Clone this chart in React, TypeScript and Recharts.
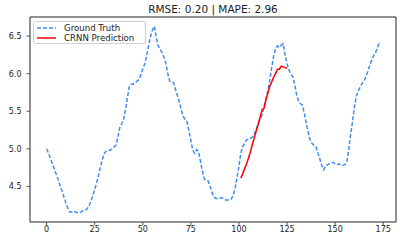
import React from "react";
import {
  LineChart,
  Line,
  XAxis,
  YAxis,
  ReferenceArea,
} from "recharts";

// ---------- data ----------

const GROUND_TRUTH = [
  5.0, 4.94, 4.87, 4.8, 4.73, 4.66, 4.59, 4.51, 4.44, 4.36,
  4.28, 4.21, 4.16, 4.16, 4.17, 4.16, 4.15, 4.15, 4.16, 4.18,
  4.18, 4.2, 4.24, 4.3, 4.38, 4.46, 4.55, 4.65, 4.76, 4.86,
  4.94, 4.97, 4.98, 4.98, 5.0, 5.02, 5.05, 5.15, 5.28, 5.33,
  5.39, 5.52, 5.68, 5.83, 5.86, 5.86, 5.88, 5.9, 5.92, 5.99,
  6.06, 6.13, 6.24, 6.37, 6.49, 6.58, 6.63, 6.48, 6.37, 6.32,
  6.28, 6.22, 6.13, 6.0, 5.9, 5.89, 5.88, 5.79, 5.71, 5.62,
  5.52, 5.43, 5.39, 5.36, 5.24, 5.11, 4.98, 4.94, 4.99, 4.96,
  4.83, 4.7, 4.6, 4.58, 4.57, 4.5, 4.42, 4.36, 4.34, 4.34,
  4.34, 4.35, 4.34, 4.32, 4.32, 4.32, 4.33, 4.38, 4.48, 4.62,
  4.77, 4.95, 5.03, 5.08, 5.12, 5.13, 5.14, 5.16, 5.2, 5.26,
  5.33, 5.4, 5.45, 5.55, 5.66, 5.77, 5.91, 6.08, 6.23, 6.33,
  6.37, 6.35, 6.38, 6.4, 6.25, 6.13, 6.05, 5.99, 5.96, 5.85,
  5.72, 5.63, 5.6, 5.58, 5.47, 5.34, 5.22, 5.12, 5.07, 5.05,
  5.03, 4.95, 4.87, 4.78, 4.72, 4.77, 4.79, 4.8, 4.81, 4.82,
  4.8, 4.79, 4.8, 4.78, 4.78, 4.79, 4.82, 4.98, 5.18, 5.35,
  5.55, 5.7, 5.77, 5.82, 5.87, 5.9, 5.96, 6.03, 6.11, 6.18,
  6.24, 6.28, 6.34, 6.43,
];

const PRED_START = 101;
const PREDICTION = [
  4.61, 4.67, 4.74, 4.8, 4.88, 4.96, 5.06, 5.15, 5.24, 5.33,
  5.42, 5.52, 5.54, 5.65, 5.74, 5.83, 5.89, 5.95, 6.0, 6.06,
  6.06, 6.1, 6.09, 6.08, 6.07,
];

const X_TICKS = [0, 25, 50, 75, 100, 125, 150, 175];
const Y_TICKS = [4.5, 5.0, 5.5, 6.0, 6.5];
const TITLE = "RMSE: 0.20 | MAPE: 2.96";

// ---------- chart ----------

const FONT = "'DejaVu Sans', sans-serif";
const BLUE = "#3d8ef0";
const RED = "#ff0000";
const X_DOMAIN: [number, number] = [-8.65, 181.65];
const Y_DOMAIN: [number, number] = [4.026, 6.754];

const gtData = GROUND_TRUTH.map((y, i) => ({ x: i, y }));
const predData = PREDICTION.map((y, i) => ({ x: PRED_START + i, y }));

function LegendBox() {
  const row = (dash: string | undefined, color: string, label: string) => (
    <div style={{ display: "flex", alignItems: "center", height: 10 }}>
      <svg width={20} height={6} style={{ marginRight: 7 }}>
        <line
          x1={0}
          y1={3}
          x2={19}
          y2={3}
          stroke={color}
          strokeWidth={1.5}
          strokeDasharray={dash}
        />
      </svg>
      <span>{label}</span>
    </div>
  );
  return (
    <div
      style={{
        position: "absolute",
        left: 33,
        top: 21,
        boxSizing: "border-box",
        fontFamily: FONT,
        fontSize: 8.6,
        color: "#222",
        background: "rgba(255,255,255,0.85)",
        border: "1px solid #d0d0d0",
        borderRadius: 2,
        padding: "1px 0 0 3px",
        width: 113,
        height: 23,
        lineHeight: "10px",
        whiteSpace: "nowrap",
      }}
    >
      {row("4 2", BLUE, "Ground Truth")}
      {row(undefined, RED, "CRNN Prediction")}
    </div>
  );
}

export default function App() {
  return (
    <div style={{ position: "fixed", left: 0, top: 0, width: 407, height: 242, background: "#fff" }}>
      <div
        style={{
          position: "absolute",
          top: 3,
          left: 30,
          width: 366,
          textAlign: "center",
          fontFamily: FONT,
          fontSize: 10.5,
          color: "#222",
        }}
      >
        {TITLE}
      </div>
      <LineChart
        width={407}
        height={242}
        margin={{ top: 17, right: 11, left: 0, bottom: 0 }}
      >
        <XAxis
          type="number"
          dataKey="x"
          domain={X_DOMAIN}
          ticks={X_TICKS}
          allowDataOverflow
          height={20}
          tickSize={3.5}
          tickMargin={1}
          axisLine={false}
          tickLine={{ stroke: "#333", strokeWidth: 0.8 }}
          tick={{ fontSize: 8, fontFamily: FONT, fill: "#222" }}
        />
        <YAxis
          type="number"
          dataKey="y"
          domain={Y_DOMAIN}
          ticks={Y_TICKS}
          allowDataOverflow
          width={30}
          tickSize={3.5}
          tickMargin={5}
          axisLine={false}
          tickLine={{ stroke: "#333", strokeWidth: 0.8 }}
          tickFormatter={(v: number) => v.toFixed(1)}
          tick={{ fontSize: 8, fontFamily: FONT, fill: "#222" }}
        />
        <ReferenceArea
          x1={X_DOMAIN[0]}
          x2={X_DOMAIN[1]}
          y1={Y_DOMAIN[0]}
          y2={Y_DOMAIN[1]}
          fill="none"
          stroke="#222"
          strokeWidth={1}
          ifOverflow="visible"
        />
        <Line
          data={gtData}
          dataKey="y"
          type="linear"
          stroke={BLUE}
          strokeWidth={1.5}
          strokeDasharray="4 2"
          dot={false}
          isAnimationActive={false}
          name="Ground Truth"
        />
        <Line
          data={predData}
          dataKey="y"
          type="linear"
          stroke={RED}
          strokeWidth={1.5}
          dot={false}
          isAnimationActive={false}
          name="CRNN Prediction"
        />
      </LineChart>
      <LegendBox />
    </div>
  );
}
